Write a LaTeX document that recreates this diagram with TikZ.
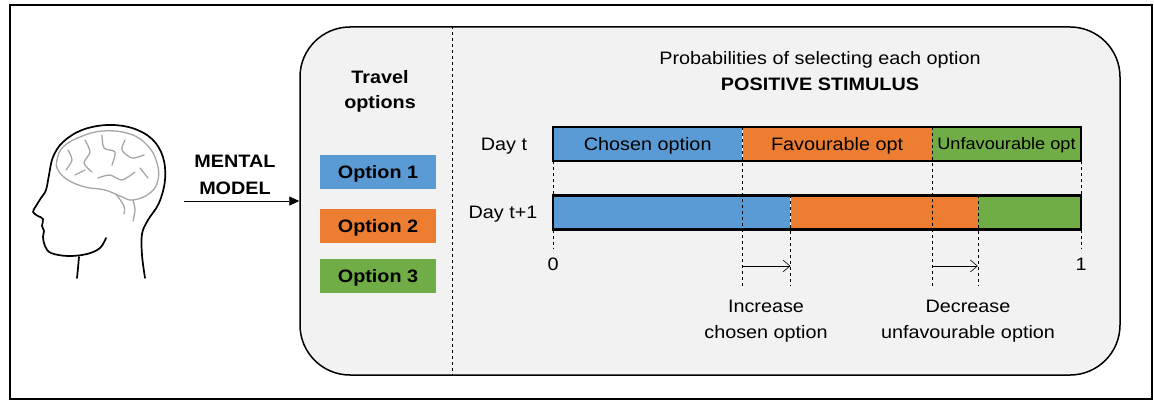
\documentclass[tikz,border=0pt]{standalone}
\usepackage{fontspec}
\setmainfont{Liberation Sans}[FakeStretch=1.1]
\usepackage{tikz}
\usetikzlibrary{positioning,arrows.meta}
\usepackage{xcolor}
\definecolor{optblue}{HTML}{5B9BD5}
\definecolor{optorange}{HTML}{ED7D31}
\definecolor{optgreen}{HTML}{70AD47}
\definecolor{panelgray}{HTML}{F2F2F2}
\definecolor{braingray}{HTML}{A6A6A6}

\tikzset{
  seg/.style={rectangle,minimum height=34pt,inner sep=0pt,text depth=0pt,anchor=west,font=\fontsize{18}{22}\selectfont},
  optbox/.style={rectangle,minimum width=116pt,minimum height=34pt,inner sep=0pt,text depth=0pt,font=\bfseries\fontsize{18}{22}\selectfont},
  lbl/.style={align=center,font=\fontsize{18}{26}\selectfont},
  guide/.style={dashed,line width=0.6pt},
}

\begin{document}
\begin{tikzpicture}[x=1pt,y=-1pt]
  \useasboundingbox (0,0) rectangle (1154,401);
  \draw[line width=2pt] (9.5,5.5) rectangle (1152,398.5);

  \node[draw,line width=1.5pt,fill=panelgray,rounded corners=50pt,
        minimum width=820pt,minimum height=348pt] (panel) at (710,201) {};
  \draw[guide] (panel.north -| 452,0) -- (panel.south -| 452,0);

  \node[lbl,font=\bfseries\fontsize{18}{25}\selectfont] (travel) at (380,91) {Travel\\options};
  \node[optbox,fill=optblue]   (o1) at (378,172) {Option 1};
  \node[optbox,fill=optorange] (o2) at (378,226) {Option 2};
  \node[optbox,fill=optgreen]  (o3) at (378,276) {Option 3};

  \node[lbl,font=\bfseries\fontsize{18}{27}\selectfont] (mental) at (235,175) {MENTAL\\MODEL};
  \coordinate (src) at (184,201);
  \draw[-{Triangle[length=10pt,width=9pt]},line width=0.8pt] (src) -- (panel.west);

  \node[lbl] (title) at (820,71) {Probabilities of selecting each option\\\textbf{POSITIVE STIMULUS}};

  \node[seg,fill=optblue,minimum width=189pt] (t1) at (553,144) {Chosen option};
  \node[seg,fill=optorange,minimum width=189pt,right=0pt of t1] (t2) {Favourable opt};
  \node[seg,fill=optgreen,minimum width=149pt,right=0pt of t2,font=\fontsize{16.5}{20}\selectfont] (t3) {Unfavourable opt};

  \node[seg,fill=optblue,minimum width=237pt] (u1) at (553,212.5) {};
  \node[seg,fill=optorange,minimum width=187pt,right=0pt of u1] (u2) {};
  \node[seg,fill=optgreen,minimum width=103pt,right=0pt of u2] (u3) {};

  \node[lbl] (dayt)  at (504,146) {Day t};
  \node[lbl] (dayt1) at (503,214) {Day t+1};

  \draw[guide] (t1.south west) -- (u1.north west);
  \draw[guide] (t3.south east) -- (u3.north east);
  \draw[guide] (u1.south west) -- (u1.south west |- 0,248);
  \draw[guide] (u3.south east) -- (u3.south east |- 0,248);
  \draw[guide] (t2.north west) -- (t2.north west |- 0,286);
  \draw[guide] (t3.north west) -- (t3.north west |- 0,286);
  \draw[guide] (u2.north west) -- (u2.north west |- 0,286);
  \draw[guide] (u3.north west) -- (u3.north west |- 0,286);

  \draw[line width=2.5pt] (t1.north west) rectangle (t3.south east);
  \draw[line width=2.5pt] (u1.north west) rectangle (u3.south east);

  \node[lbl] (zero) at (u1.south west |- 0,264) {0};
  \node[lbl] (one)  at (u3.south east |- 0,264) {1};

  \draw[-{Straight Barb[length=7pt,width=12pt]},line width=0.6pt]
    (t2.north west |- 0,266) -- (u2.north west |- 0,266);
  \draw[-{Straight Barb[length=7pt,width=12pt]},line width=0.6pt]
    (t3.north west |- 0,266) -- (u3.north west |- 0,266);

  \node[lbl] (inc) at (766,321) {Increase\\chosen option};
  \node[lbl] (dec) at (968,321) {Decrease\\unfavourable option};

  % head
  \draw[line width=1.7pt,line cap=round,line join=round] plot[smooth,tension=0.6] coordinates {
    (145,278) (142,255) (142,234) (148,220) (159,203) (165,180) (163,157) (152,139)
    (132,128) (107,125) (82,130) (63,142) (53,157) (49,175) (46,190) (41,198)
    (36,206) (33,212) (38,216) (43,219) (42,226) (44,231) (43,237) (45,246)
    (51,253) (68,256) (87,254) (100,248) (106,238)};
  \draw[line width=1.7pt,line cap=round] plot[smooth] coordinates {(79,257) (78,268) (77,278)};

  % brain
  \begin{scope}[braingray,line width=1.3pt,line cap=round]
    \draw plot[smooth cycle,tension=0.7] coordinates {
      (57,160) (63,147) (80,137) (103,131) (130,134) (148,146) (157,163) (158,180)
      (150,193) (133,200) (120,196) (105,190) (85,187) (68,180) (58,170)};
    \draw plot[smooth] coordinates {(116,194) (124,206) (124,214)};
    \draw plot[smooth] coordinates {(133,200) (135,210) (133,221)};
    \draw plot[smooth] coordinates {(68,150) (72,160) (66,170)};
    \draw plot[smooth] coordinates {(85,140) (90,152) (84,163) (92,172)};
    \draw plot[smooth] coordinates {(102,135) (104,148) (115,152) (112,165)};
    \draw plot[smooth] coordinates {(125,140) (122,150) (132,158) (144,155)};
    \draw plot[smooth] coordinates {(98,178) (110,175) (122,180) (135,172)};
    \draw plot[smooth] coordinates {(140,168) (148,178)};
    \draw plot[smooth] coordinates {(75,175) (85,170)};
  \end{scope}
\end{tikzpicture}
\end{document}
